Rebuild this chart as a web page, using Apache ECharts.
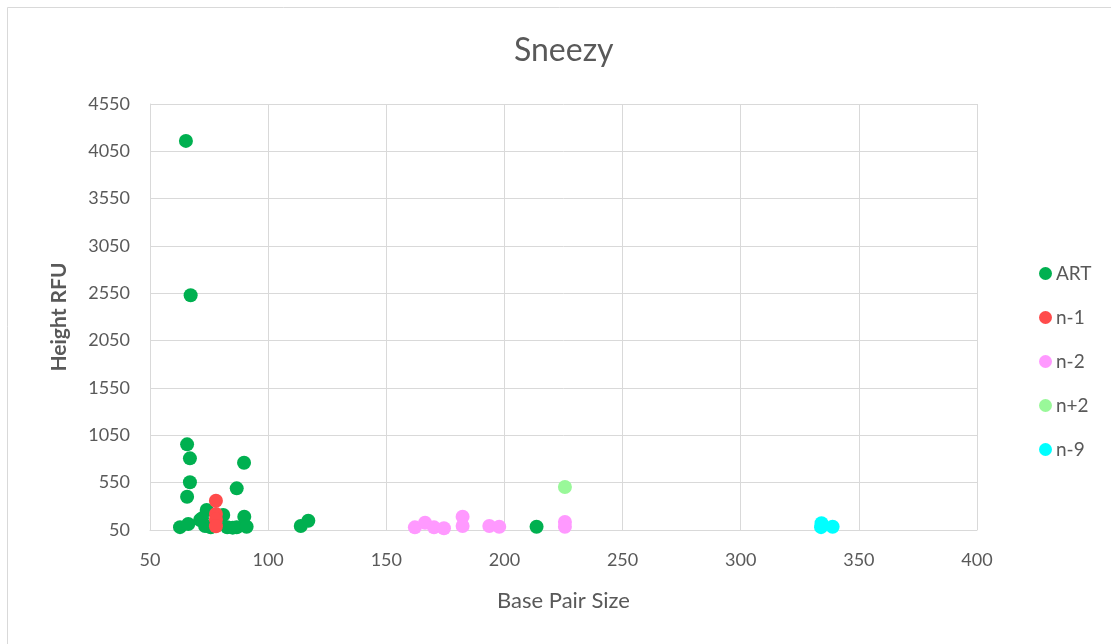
<!DOCTYPE html>
<html>
<head>
<meta charset="utf-8">
<script src="https://cdn.jsdelivr.net/npm/echarts@6/dist/echarts.min.js"></script>
<style>html,body{margin:0;padding:0;background:#fff;}#c{width:1111px;height:644px;}</style>
</head>
<body>
<div id="c"></div>
<script>
const seriesNames = ['ART', 'n-1', 'n-2', 'n+2', 'n-9'];
const artData = [[65.2,4160],[67.2,2530],[65.7,955],[66.9,807],[89.8,761],[66.9,554],[86.7,490],[65.7,402],[74,261],[89.9,190],[81,208],[71.2,156],[72,173],[62.7,80],[66.2,113],[73.3,92],[75.7,78],[82.7,78],[86.7,78],[90.9,85],[85,75],[80.3,200],[113.8,92],[117,148],[213.6,85]];
const n1Data = [[77.9,359],[77.9,220],[77.9,160],[77.9,90]];
const n2Data = [[162.1,78],[166.4,127],[170.2,78],[174.4,68],[182.3,190],[182.3,92],[193.6,92],[197.8,85],[225.6,135],[225.6,85]];
const np2Data = [[225.6,504]];
const n9Data = [[334.2,121],[338.9,85],[334,80]];
const colors = ['#00b050', '#ff4b4b', '#ff99ff', '#99f899', '#00ffff'];
const allData = [artData, n1Data, n2Data, np2Data, n9Data];

const font = 'Lato, "Open Sans", sans-serif';
const chart = echarts.init(document.getElementById('c'), null, {renderer: 'canvas'});
chart.setOption({
  animation: false,
  backgroundColor: '#fff',
  graphic: [{type: 'rect', shape: {x: 7.5, y: 7.5, width: 1200, height: 700}, style: {fill: 'none', stroke: '#d9d9d9', lineWidth: 1}, silent: true}],
  title: {text: 'Sneezy', left: 509, top: 30, textStyle: {fontFamily: font, fontWeight: 'normal', fontSize: 32, color: '#595959'}},
  legend: {
    orient: 'vertical', left: 1034, top: 259, itemGap: 25, itemWidth: 13, itemHeight: 13,
    icon: 'circle', data: seriesNames,
    textStyle: {fontFamily: font, fontSize: 19, color: '#595959', padding: [0,0,0,-1]}
  },
  grid: {left: 150, right: 134, top: 104, bottom: 114},
  xAxis: {
    type: 'value', min: 50, max: 400, interval: 50,
    name: 'Base Pair Size', nameLocation: 'middle', nameGap: 60,
    nameTextStyle: {fontFamily: font, fontSize: 22, color: '#595959'},
    axisLine: {show: true, lineStyle: {color: '#d9d9d9'}}, axisTick: {show: false},
    axisLabel: {fontFamily: font, fontSize: 18, color: '#595959', margin: 21},
    splitLine: {show: true, lineStyle: {color: '#d9d9d9'}}
  },
  yAxis: {
    type: 'value', min: 50, max: 4550, interval: 500,
    name: 'Height RFU', nameLocation: 'middle', nameGap: 80,
    nameTextStyle: {fontFamily: font, fontSize: 21, fontWeight: 'bold', color: '#595959'},
    axisLine: {show: true, lineStyle: {color: '#d9d9d9'}}, axisTick: {show: false},
    axisLabel: {fontFamily: font, fontSize: 18, color: '#595959', margin: 20, formatter: v => String(v)},
    splitLine: {show: true, lineStyle: {color: '#d9d9d9'}}
  },
  series: seriesNames.map((n, i) => ({
    name: n, type: 'scatter', data: allData[i], symbol: 'circle', symbolSize: 14,
    itemStyle: {color: colors[i], opacity: 1}
  }))
});
</script>
</body>
</html>
